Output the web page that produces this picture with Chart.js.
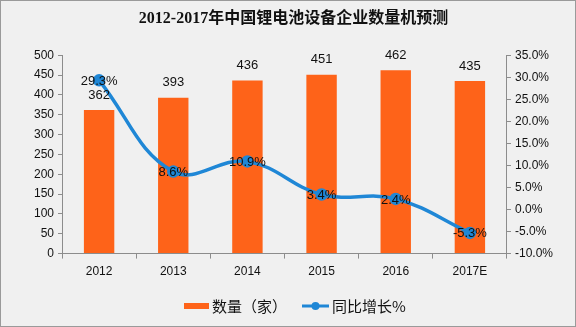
<!DOCTYPE html>
<html>
<head>
<meta charset="utf-8">
<script src="https://cdn.jsdelivr.net/npm/chart.js@4/dist/chart.umd.min.js"></script>
<style>
  html, body { margin: 0; padding: 0; background: #efefef; }
  #wrap { position: relative; width: 574px; height: 325px; border: 1px solid #9a9a9a; background: #f0f0f0; }
  canvas { display: block; }
</style>
</head>
<body>
<div id="wrap"><canvas id="c" width="574" height="325"></canvas></div>
<script>
// Categories and series
const years = ['2012', '2013', '2014', '2015', '2016', '2017E'];
const companyCount = [362, 393, 436, 451, 462, 435];
const growthPct = [29.3, 8.6, 10.9, 3.4, 2.4, -5.3];
const countTicks = [0, 50, 100, 150, 200, 250, 300, 350, 400, 450, 500];
const pctTicks = [-10, -5, 0, 5, 10, 15, 20, 25, 30, 35];

const BAR_COLOR = '#fe6319';
const LINE_COLOR = '#1f87d6';
const AXIS_COLOR = '#8c8c8c';
const TICK_FONT = { family: '"Liberation Sans", "DejaVu Sans", sans-serif', size: 12 };

// Value labels for bars and line points
const valueLabels = {
  id: 'valueLabels',
  afterDatasetsDraw(chart) {
    const ctx = chart.ctx;
    ctx.save();
    ctx.font = '13px "Liberation Sans", "DejaVu Sans", sans-serif';
    ctx.fillStyle = '#111';
    ctx.textAlign = 'center';
    ctx.textBaseline = 'middle';
    chart.getDatasetMeta(0).data.forEach((el, i) => {
      ctx.fillText(String(companyCount[i]), el.x, el.y - 15);
    });
    chart.getDatasetMeta(1).data.forEach((el, i) => {
      ctx.fillText(growthPct[i].toFixed(1) + '%', el.x, el.y + 1);
    });
    ctx.restore();
  }
};

// Legend drawn below the axis
const bottomLegend = {
  id: 'bottomLegend',
  afterDraw(chart) {
    const ctx = chart.ctx;
    const y = 305;
    ctx.save();
    ctx.font = '15px "Noto Sans CJK SC", sans-serif';
    ctx.textBaseline = 'middle';
    ctx.textAlign = 'left';
    // bar series
    ctx.fillStyle = BAR_COLOR;
    ctx.fillRect(183, y - 3, 25, 6);
    ctx.fillStyle = '#111';
    ctx.fillText(chart.data.datasets[0].label, 211, y);
    // line series
    ctx.strokeStyle = LINE_COLOR;
    ctx.lineWidth = 3;
    ctx.beginPath();
    ctx.moveTo(301, y);
    ctx.lineTo(328, y);
    ctx.stroke();
    ctx.fillStyle = LINE_COLOR;
    ctx.beginPath();
    ctx.arc(314.5, y, 4, 0, Math.PI * 2);
    ctx.fill();
    ctx.fillStyle = '#111';
    ctx.fillText(chart.data.datasets[1].label, 331, y);
    ctx.restore();
  }
};

new Chart(document.getElementById('c'), {
  data: {
    labels: years,
    datasets: [
      {
        type: 'bar',
        label: '数量（家）',
        data: companyCount,
        backgroundColor: BAR_COLOR,
        yAxisID: 'y',
        categoryPercentage: 1,
        barPercentage: 0.41,
        order: 2
      },
      {
        type: 'line',
        label: '同比增长%',
        data: growthPct,
        borderColor: LINE_COLOR,
        backgroundColor: LINE_COLOR,
        borderWidth: 3.5,
        pointRadius: 4.5,
        pointHoverRadius: 4.5,
        tension: 0.4,
        yAxisID: 'y1',
        order: 1
      }
    ]
  },
  options: {
    responsive: false,
    animation: false,
    layout: { padding: { left: 29, right: 18, top: 0, bottom: 41 } },
    plugins: {
      legend: { display: false },
      tooltip: { enabled: false },
      title: {
        display: true,
        text: '2012-2017年中国锂电池设备企业数量机预测',
        color: '#111',
        font: { family: '"Liberation Serif", "Noto Sans CJK SC", serif', size: 16, weight: 'bold' },
        padding: { top: 8, bottom: 27 }
      }
    },
    scales: {
      x: {
        ticks: { color: '#111', font: TICK_FONT, padding: 6 },
        grid: { display: true, drawOnChartArea: false, color: AXIS_COLOR, tickLength: 5, offset: true },
        border: { display: true, color: AXIS_COLOR }
      },
      y: {
        position: 'left',
        min: 0, max: 500,
        afterBuildTicks(axis) { axis.ticks = countTicks.map(v => ({ value: v })); },
        ticks: { color: '#111', font: TICK_FONT, padding: 4 },
        grid: { display: true, drawOnChartArea: false, color: AXIS_COLOR, tickLength: 4 },
        border: { display: true, color: AXIS_COLOR }
      },
      y1: {
        position: 'right',
        min: -10, max: 35,
        afterBuildTicks(axis) { axis.ticks = pctTicks.map(v => ({ value: v })); },
        ticks: { color: '#111', font: TICK_FONT, padding: 4, callback: v => v.toFixed(1) + '%' },
        grid: { display: true, drawOnChartArea: false, color: AXIS_COLOR, tickLength: 4 },
        border: { display: true, color: AXIS_COLOR }
      }
    }
  },
  plugins: [valueLabels, bottomLegend]
});
</script>
</body>
</html>
